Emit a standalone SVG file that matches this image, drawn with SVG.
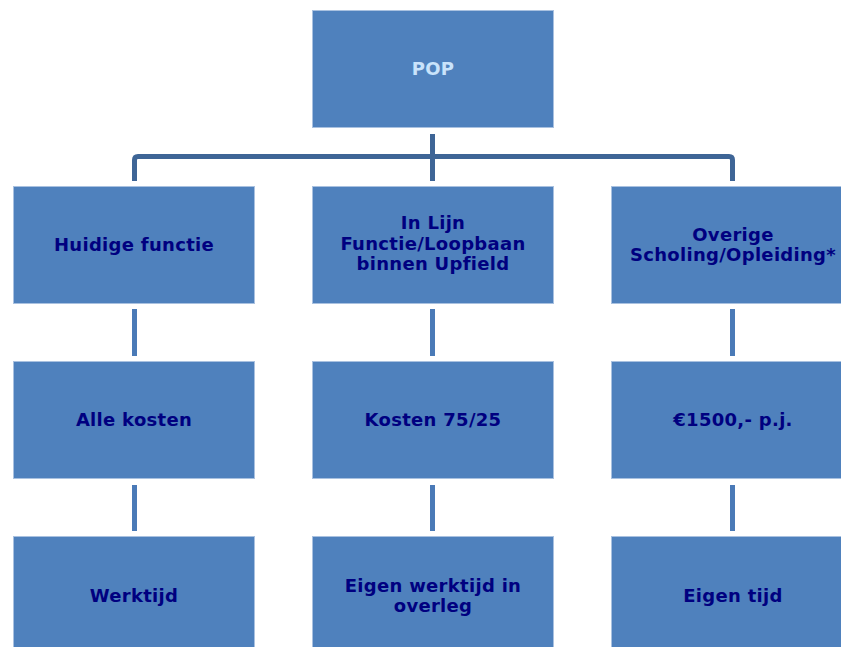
<svg xmlns="http://www.w3.org/2000/svg" width="841" height="647" viewBox="0 0 841 647">
<style>
.box{fill:#4f81bd;stroke:#a9c1e0;stroke-width:1}
.t{font-family:"DejaVu Sans",Verdana,sans-serif;font-weight:bold;font-size:18px;fill:#000080;text-anchor:middle;letter-spacing:0.3px}
.pop{fill:#c9e3fb}
.main{fill:none;stroke:#3e6596;stroke-width:5}
.sub{fill:none;stroke:#4a7ab7;stroke-width:5}
</style>
<rect width="841" height="647" fill="#ffffff"/>
<g id="connectors">
<path class="main" d="M432.5 134V181"/>
<path class="main" d="M134.5 181V160Q134.5 156.5 138 156.5H729Q732.5 156.5 732.5 160V181"/>
<path class="sub" d="M134.5 309V356M432.5 309V356M732.5 309V356"/>
<path class="sub" d="M134.5 485V531M432.5 485V531M732.5 485V531"/>
</g>
<g id="pop"><rect class="box" x="312.5" y="10.5" width="241" height="117"/><text class="t pop" x="433" y="75">POP</text></g>
<g id="huidige"><rect class="box" x="13.5" y="186.5" width="241" height="117"/><text class="t" x="134" y="250.5">Huidige functie</text></g>
<g id="inlijn"><rect class="box" x="312.5" y="186.5" width="241" height="117"/><text class="t" x="433" y="229">In Lijn</text><text class="t" x="433" y="249.5">Functie/Loopbaan</text><text class="t" x="433" y="270">binnen Upfield</text></g>
<g id="overige"><rect class="box" x="611.5" y="186.5" width="242" height="117"/><text class="t" x="733" y="240.5">Overige</text><text class="t" x="733" y="261">Scholing/Opleiding*</text></g>
<g id="alle"><rect class="box" x="13.5" y="361.5" width="241" height="117"/><text class="t" x="134" y="426">Alle kosten</text></g>
<g id="kosten"><rect class="box" x="312.5" y="361.5" width="241" height="117"/><text class="t" x="433" y="426">Kosten 75/25</text></g>
<g id="euro"><rect class="box" x="611.5" y="361.5" width="242" height="117"/><text class="t" x="733" y="426">€1500,- p.j.</text></g>
<g id="werktijd"><rect class="box" x="13.5" y="536.5" width="241" height="117"/><text class="t" x="134" y="601.5">Werktijd</text></g>
<g id="eigenwerk"><rect class="box" x="312.5" y="536.5" width="241" height="117"/><text class="t" x="433" y="591.5">Eigen werktijd in</text><text class="t" x="433" y="612">overleg</text></g>
<g id="eigentijd"><rect class="box" x="611.5" y="536.5" width="242" height="117"/><text class="t" x="733" y="601.5">Eigen tijd</text></g>
</svg>
